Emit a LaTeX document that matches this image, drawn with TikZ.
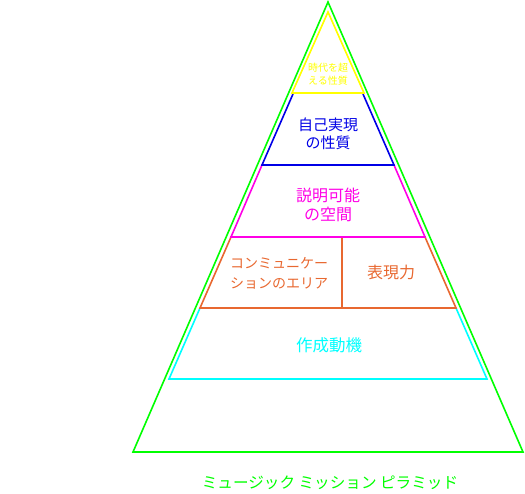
\documentclass[tikz,border=0pt]{standalone}
\usepackage{fontspec}
\setmainfont{Noto Sans CJK JP}
\usetikzlibrary{positioning}
\definecolor{lgreen}{RGB}{0,255,0}
\definecolor{lyellow}{RGB}{255,255,0}
\definecolor{lblue}{RGB}{0,0,230}
\definecolor{lmagenta}{RGB}{255,0,230}
\definecolor{lorange}{RGB}{232,104,48}
\definecolor{lcyan}{RGB}{0,255,255}
\tikzset{layertext/.style={align=center, font=\fontsize{16}{19}\selectfont}}
\begin{document}
\begin{tikzpicture}[x=1pt,y=-1pt,line width=1.6pt]
\useasboundingbox (0,0) rectangle (525,493);

%outer pyramid
\draw[lgreen] (328,2) -- (133,452) -- (523,452) -- cycle;

%layers
\draw[lcyan] (200,308) -- (169,379) -- (487,379) -- (456,308);
\draw[lorange] (231,237) -- (200,308) -- (456,308) -- (425,237) -- cycle (342,237) -- (342,308);
\draw[lmagenta] (262,165) -- (231,237) -- (425,237) -- (394,165) -- cycle;
\draw[lblue] (293,94) -- (262,165) -- (394,165) -- (363,94);
\draw[lyellow] (328,12) -- (292,93) -- (364,93) -- cycle;

%labels
\node[layertext, lyellow, font=\fontsize{10}{13}\selectfont] (time) at (328,74) {時代を超\\える性質};
\node[layertext, lblue, font=\fontsize{15}{18}\selectfont] (self) at (328,134) {自己実現\\の性質};
\node[layertext, lmagenta] (expl) at (328,204.5) {説明可能\\の空間};
\node[layertext, lorange, font=\fontsize{14}{20}\selectfont] (comm) at (279,273) {コンミュニケー\\ションのエリア};
\node[layertext, lorange] (expr) at (391,272) {表現力};
\node[layertext, lcyan, font=\fontsize{16.5}{19}\selectfont] (motiv) at (329,345) {作成動機};

%title
\node[lgreen, font=\fontsize{15.6}{18}\selectfont] (title) at (330,483) {ミュージック ミッション ピラミッド};
\end{tikzpicture}
\end{document}
